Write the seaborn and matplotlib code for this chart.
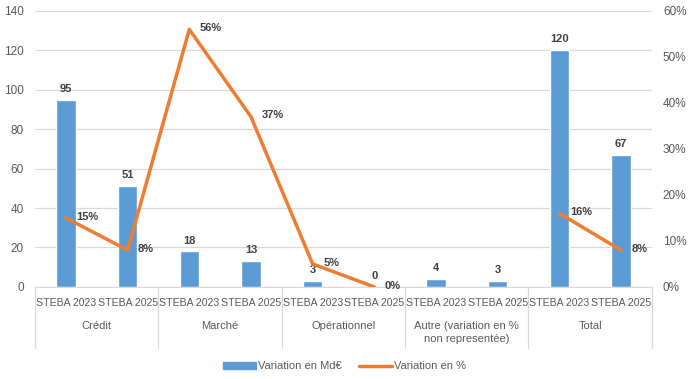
import numpy as np
import pandas as pd
import matplotlib.pyplot as plt
import seaborn as sns
from matplotlib.lines import Line2D
from matplotlib.patches import Patch

# Données
groups = ["Crédit", "Marché", "Opérationnel", "Autre (variation en %\nnon representée)", "Total"]
scenarios = ["STEBA 2023", "STEBA 2025"]
montants = [95, 51, 18, 13, 3, 0, 4, 3, 120, 67]
variation_pct = [15, 8, 56, 37, 5, 0, np.nan, np.nan, 16, 8]
segment = [0, 0, 0, 0, 0, 0, 1, 1, 1, 1]

pos = list(range(len(montants)))
df = pd.DataFrame({"pos": pos, "montant": montants, "pct": variation_pct, "seg": segment})

sns.set_style("white")
plt.rcParams["font.family"] = ["Liberation Sans", "DejaVu Sans"]

blue = "#5B9BD5"
orange = "#ED7D31"
txt = "#595959"
grid = "#D9D9D9"

fig = plt.figure(figsize=(6.89, 3.79), dpi=100)
ax = fig.add_axes([0.051, 0.243, 0.895, 0.728])

sns.barplot(data=df, x="pos", y="montant", color=blue, width=0.31, saturation=1, ax=ax, zorder=2)
ax.set_ylim(0, 140)
ax.set_yticks(range(0, 141, 20))
ax.set_xlim(-0.5, 9.5)
ax.yaxis.grid(True, color=grid, lw=0.9, zorder=0)
ax.set_axisbelow(True)
for s in ["top", "right", "left"]:
    ax.spines[s].set_visible(False)
ax.spines["bottom"].set_color(grid)
ax.tick_params(axis="y", length=0, labelsize=8.5, colors=txt, pad=8)
ax.set_xticks(pos)
ax.set_xticklabels(scenarios * 5, fontsize=7.6, color=txt)
ax.tick_params(axis="x", length=0, pad=8)
ax.set_xlabel("")
ax.set_ylabel("")

for p, v in zip(pos, montants):
    ax.text(p, v + 3, str(v), ha="center", va="bottom", fontsize=8, fontweight="bold", color="#404040")

# Séparateurs et noms de groupes
for b in [-0.5, 1.5, 3.5, 5.5, 7.5, 9.5]:
    ax.plot([b, b], [0, -0.22], transform=ax.get_xaxis_transform(), color=grid, lw=0.9, clip_on=False)
for i, g in enumerate(groups):
    ax.text(2 * i + 0.5, -0.125, g, transform=ax.get_xaxis_transform(), ha="center", va="top",
            fontsize=8, color=txt, linespacing=1.35)

ax2 = ax.twinx()
sns.lineplot(data=df.dropna(), x="pos", y="pct", units="seg", estimator=None, color=orange, lw=2.5, ax=ax2, zorder=3)
ax2.set_ylim(0, 60)
ax2.set_yticks(range(0, 61, 10))
ax2.set_yticklabels([f"{t}%" for t in range(0, 61, 10)])
ax2.tick_params(axis="y", length=0, labelsize=8.5, colors=txt, pad=8)
for s in ["top", "right", "left", "bottom"]:
    ax2.spines[s].set_visible(False)
ax2.set_ylabel("")
ax2.set_xlabel("")

for p, v in zip(pos, variation_pct):
    if np.isnan(v):
        continue
    ax2.text(p + 0.17, v + 0.3, f"{int(v)}%", ha="left", va="center", fontsize=8, fontweight="bold", color="#404040")

handles = [Patch(color=blue, label="Variation en Md€"), Line2D([0], [0], color=orange, lw=2.5, label="Variation en %")]
fig.legend(handles=handles, loc="center", bbox_to_anchor=(0.5, 0.033), ncol=2, frameon=False,
           fontsize=8, labelcolor=txt, handlelength=3, handletextpad=0.2, columnspacing=1.5)

fig.savefig("out.png", dpi=100)
